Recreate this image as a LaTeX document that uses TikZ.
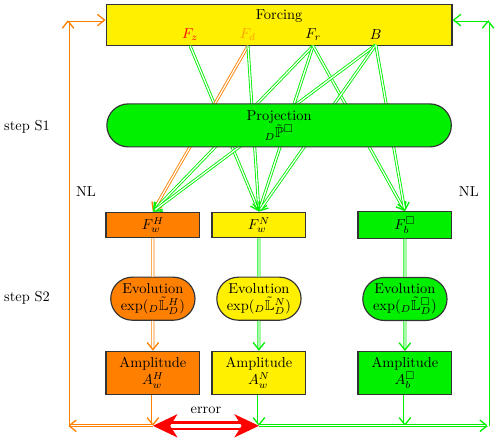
\documentclass[tikz,border=0pt]{standalone}
\usepackage{amsmath}
\usepackage{amssymb}
\usetikzlibrary{positioning}
\usetikzlibrary{arrows.meta}
\usetikzlibrary{shapes.misc}
\definecolor{diagramyellow}{RGB}{255,240,0}
\definecolor{diagramorange}{RGB}{255,128,0}
\definecolor{diagramgreen}{RGB}{0,240,0}
\definecolor{lightorange}{RGB}{255,160,0}

\begin{document}
\begin{tikzpicture}[every node/.style={align=center},
    box/.style={draw=black!80, line width=0.8pt, minimum width=2.29cm},
    roundbox/.style={box, rounded rectangle},
    link/.style={double, double distance=0.9pt, line width=0.6pt},
    tip/.style={-{Straight Barb[length=5pt,width=8pt,line width=0.9pt]}},
    errorarrow/.style={draw=red, double, double distance=2.8pt, line width=1.8pt,
        {Stealth[length=17pt,width=16pt,inset=5pt]}-{Stealth[length=17pt,width=16pt,inset=5pt]}}]

        \useasboundingbox (0,0) rectangle (12.2,-10.81);

        % Forcing box
        \node[box, fill=diagramyellow, minimum width=8.44cm, minimum height=1cm] (forcing) at (6.81,-0.62) {};
        \node (forcingtitle) at (6.81,-0.39) {Forcing};
        \node[text=red] (fz) at (4.64,-0.85) {$F_z$};
        \node[text=lightorange] (fd) at (6.05,-0.85) {$F_d$};
        \node (fr) at (7.64,-0.85) {$F_r$};
        \node (fb) at (9.17,-0.85) {$B$};

        % Forcing terms per column
        \node[box, fill=diagramorange, minimum height=0.63cm] (fwh) at (3.73,-5.49) {$F_w^H$};
        \node[box, fill=diagramyellow, minimum height=0.63cm, right=0.27cm of fwh] (fwn) {$F_w^N$};
        \node[box, fill=diagramgreen, minimum height=0.63cm] (fbs) at (9.88,-5.49) {$F_b^{\square}$};

        \foreach \s/\t/\c in {fz/fwn/diagramgreen, fd/fwh/diagramorange, fd/fwn/diagramgreen,
                fr/fwh/diagramgreen, fr/fwn/diagramgreen, fr/fbs/diagramgreen,
                fb/fwh/diagramgreen, fb/fwn/diagramgreen, fb/fbs/diagramgreen}
            \draw[link, draw=\c, tip] (\s.south) -- (\t.north);

        % Projection
        \node[roundbox, fill=diagramgreen, minimum width=8.64cm, minimum height=1.05cm] (proj) at (6.81,-3.06) {%
            Projection\\ ${}_D\tilde{\mathbb{P}}^{\square}$};

        % Evolution and amplitude
        \node[roundbox, fill=diagramorange, minimum height=1.05cm, below=0.93cm of fwh] (evoh) {Evolution\\ $\exp({}_D\tilde{\mathbb{L}}_D^H)$};
        \node[roundbox, fill=diagramyellow, minimum height=1.05cm, below=0.93cm of fwn] (evon) {Evolution\\ $\exp({}_D\tilde{\mathbb{L}}_D^N)$};
        \node[roundbox, fill=diagramgreen, minimum height=1.05cm, below=0.93cm of fbs] (evob) {Evolution\\ $\exp({}_D\tilde{\mathbb{L}}_D^{\square})$};
        \node[box, fill=diagramorange, minimum height=1.05cm, below=0.73cm of evoh] (amph) {Amplitude\\ $A_w^H$};
        \node[box, fill=diagramyellow, minimum height=1.05cm, below=0.73cm of evon] (ampn) {Amplitude\\ $A_w^N$};
        \node[box, fill=diagramgreen, minimum height=1.05cm, below=0.73cm of evob] (ampb) {Amplitude\\ $A_b^{\square}$};

        \coordinate (bottom) at (0,-10.39);
        \coordinate (hjoin) at (amph.south |- bottom);
        \coordinate (njoin) at (ampn.south |- bottom);
        \coordinate (bjoin) at (ampb.south |- bottom);
        \coordinate (lbot) at (1.66,-10.39);
        \coordinate (ltop) at (1.66,-0.49);
        \coordinate (rbot) at (11.91,-10.39);
        \coordinate (rtop) at (11.91,-0.49);

        \draw[link, draw=diagramorange] (fwh) -- (evoh);
        \draw[link, draw=diagramorange, tip] (evoh) -- (amph);
        \draw[link, draw=diagramorange, tip] (amph) -- (hjoin);
        \draw[link, draw=diagramgreen] (fwn) -- (evon);
        \draw[link, draw=diagramgreen, tip] (evon) -- (ampn);
        \draw[link, draw=diagramgreen, tip] (ampn) -- (njoin);
        \draw[link, draw=diagramgreen] (fbs) -- (evob);
        \draw[link, draw=diagramgreen, tip] (evob) -- (ampb);
        \draw[link, draw=diagramgreen, tip] (ampb) -- (bjoin);

        % Feedback loops
        \draw[link, draw=diagramorange, tip] (hjoin) -- (lbot);
        \draw[link, draw=diagramorange, tip] (lbot) -- (ltop);
        \draw[link, draw=diagramorange, tip] (ltop) -- (forcing.west |- ltop);
        \draw[link, draw=diagramgreen, tip] (njoin) -- (rbot);
        \draw[link, draw=diagramgreen, tip] (rbot) -- (rtop);
        \draw[link, draw=diagramgreen, tip] (rtop) -- (forcing.east |- rtop);

        \draw[errorarrow] (hjoin) -- node[above=4pt] (err) {error} (njoin);

        % Side labels
        \node (stepone) at (0.66,-3.10) {step S1};
        \node (steptwo) at (0.66,-7.27) {step S2};
        \node (nlleft) at (2.10,-4.68) {NL};
        \node (nlright) at (11.44,-4.68) {NL};

    \end{tikzpicture}
\end{document}
